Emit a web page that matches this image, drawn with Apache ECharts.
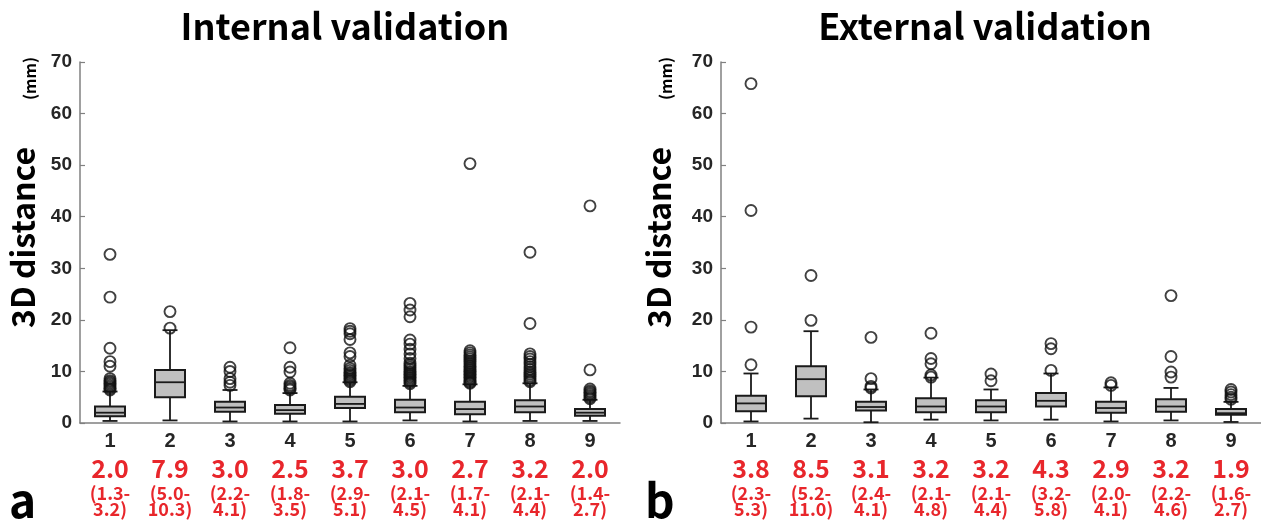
<!DOCTYPE html>
<html><head><meta charset="utf-8">
<script src="https://cdn.jsdelivr.net/npm/echarts@6/dist/echarts.min.js"></script>
<style>html,body{margin:0;padding:0;background:#fff}#c{width:1261px;height:525px}</style>
</head><body><div id="c"></div>
<script>
// ---------- data ----------
const categories = ['1','2','3','4','5','6','7','8','9'];
const yMin = 0, yMax = 70, yStep = 10;

// Internal validation
const intLow  = [0.4, 0.5, 0.3, 0.3, 0.3, 0.5, 0.3, 0.4, 0.4];
const intQ1   = [1.3, 5.0, 2.2, 1.8, 2.9, 2.1, 1.7, 2.1, 1.4];
const intMed  = [2.0, 7.9, 3.0, 2.5, 3.7, 3.0, 2.7, 3.2, 2.0];
const intQ3   = [3.2, 10.3, 4.1, 3.5, 5.1, 4.5, 4.1, 4.4, 2.7];
const intHigh = [6.1, 18.0, 6.4, 5.8, 7.9, 7.2, 7.5, 7.7, 4.5];
const intOut1 = [32.7, 24.4, 14.5, 11.9, 11.0, 8.6, 8.2, 7.9, 7.6, 7.3, 7.0, 6.7, 6.4];
const intOut2 = [21.6, 18.4];
const intOut3 = [10.8, 10.0, 8.6, 7.9, 7.3];
const intOut4 = [14.6, 10.8, 9.9, 7.7, 7.3, 7.0, 6.7, 6.4];
const intOut5 = [18.3, 17.8, 17.3, 16.2, 13.6, 12.9, 11.2, 10.6, 10.2, 9.8, 9.5, 9.2, 8.9, 8.6, 8.3, 8.0];
const intOut6 = [23.2, 21.9, 20.6, 16.1, 15.3, 14.3, 13.4, 12.5, 11.6, 11.2, 10.8, 10.4, 10.0, 9.7, 9.4, 9.1, 8.8, 8.5, 8.2, 7.9, 7.6];
const intOut7 = [50.3, 14.0, 13.6, 13.2, 12.8, 12.4, 12.0, 11.6, 11.2, 10.9, 10.6, 10.3, 10.0, 9.7, 9.4, 9.1, 8.8, 8.5, 8.2, 7.9, 7.7];
const intOut8 = [33.1, 19.3, 13.4, 12.9, 12.4, 11.9, 11.4, 10.9, 10.4, 9.9, 9.5, 9.1, 8.7, 8.3, 8.0];
const intOut9 = [42.1, 10.3, 6.6, 6.2, 5.9, 5.6, 5.3, 5.0, 4.7];

// External validation
const extLow  = [0.3, 0.85, 0.15, 0.65, 0.5, 0.65, 0.3, 0.5, 0.2];
const extQ1   = [2.3, 5.2, 2.4, 2.1, 2.1, 3.2, 2.0, 2.2, 1.6];
const extMed  = [3.8, 8.5, 3.1, 3.2, 3.2, 4.3, 2.9, 3.2, 1.9];
const extQ3   = [5.3, 11.0, 4.1, 4.8, 4.4, 5.8, 4.1, 4.6, 2.7];
const extHigh = [9.6, 17.8, 6.5, 8.8, 6.5, 9.6, 6.9, 6.8, 4.1];
const extOut1 = [65.8, 41.2, 18.6, 11.3];
const extOut2 = [28.6, 19.9];
const extOut3 = [16.6, 8.6, 7.1, 6.8];
const extOut4 = [17.4, 12.5, 11.5, 9.3, 8.9];
const extOut5 = [9.5, 8.2];
const extOut6 = [15.4, 14.4, 10.2];
const extOut7 = [7.8, 7.3];
const extOut8 = [24.7, 12.9, 9.9, 8.9];
const extOut9 = [6.5, 6.0, 5.5, 5.0, 4.6];

const intOutliers = [intOut1, intOut2, intOut3, intOut4, intOut5, intOut6, intOut7, intOut8, intOut9];
const extOutliers = [extOut1, extOut2, extOut3, extOut4, extOut5, extOut6, extOut7, extOut8, extOut9];

// ---------- build ----------
const boxData = (lo, q1, md, q3, hi) => categories.map((c, i) => [i, lo[i], q1[i], md[i], q3[i], hi[i]]);
const outData = (arr) => { const r = []; arr.forEach((vals, i) => vals.forEach(v => r.push([i, v]))); return r; };

function renderBox(params, api) {
  const i = api.value(0);
  const pLow = api.coord([i, api.value(1)]);
  const pQ1 = api.coord([i, api.value(2)]);
  const pMed = api.coord([i, api.value(3)]);
  const pQ3 = api.coord([i, api.value(4)]);
  const pHigh = api.coord([i, api.value(5)]);
  const band = api.size([1, 0])[0];
  const bw = band * 0.5, cw = band * 0.25;
  const x = pMed[0];
  const ls = { stroke: '#1a1a1a', lineWidth: 1.8 };
  return { type: 'group', children: [
    { type: 'line', shape: { x1: x, y1: pQ3[1], x2: x, y2: pHigh[1] }, style: ls },
    { type: 'line', shape: { x1: x, y1: pQ1[1], x2: x, y2: pLow[1] }, style: ls },
    { type: 'line', shape: { x1: x - cw / 2, y1: pHigh[1], x2: x + cw / 2, y2: pHigh[1] }, style: ls },
    { type: 'line', shape: { x1: x - cw / 2, y1: pLow[1], x2: x + cw / 2, y2: pLow[1] }, style: ls },
    { type: 'rect', shape: { x: x - bw / 2, y: pQ3[1], width: bw, height: pQ1[1] - pQ3[1] }, style: { fill: '#c0c0c0', stroke: '#1a1a1a', lineWidth: 2 } },
    { type: 'line', shape: { x1: x - bw / 2, y1: pMed[1], x2: x + bw / 2, y2: pMed[1] }, style: ls }
  ]};
}

function xAxisFor(gridIndex, q1, md, q3) {
  return {
    type: 'category', gridIndex, data: categories, boundaryGap: true,
    axisLine: { lineStyle: { color: '#808080', width: 1.5 } },
    axisTick: { show: false },
    axisLabel: {
      interval: 0, margin: 8,
      formatter: (v, i) => '{n|' + v + '}\n{m|' + md[i].toFixed(1) + '}\n{r|(' + q1[i].toFixed(1) + '-}\n{r|' + q3[i].toFixed(1) + ')}',
      rich: {
        n: { fontFamily: 'Liberation Sans, Arial, sans-serif', fontWeight: 'bold', fontSize: 20, color: '#262626', lineHeight: 20, align: 'center' },
        m: { fontFamily: 'Noto Sans CJK JP, sans-serif', fontWeight: 'bold', fontSize: 25, color: '#e8262b', lineHeight: 34, align: 'center' },
        r: { fontFamily: 'Noto Sans CJK JP, sans-serif', fontWeight: 'bold', fontSize: 18, color: '#e8262b', lineHeight: 16, align: 'center' }
      }
    },
    splitLine: { show: false }
  };
}
function yAxisFor(gridIndex) {
  return {
    type: 'value', gridIndex, min: yMin, max: yMax, interval: yStep,
    axisLine: { show: true, lineStyle: { color: '#808080', width: 1.5 } },
    axisTick: { show: true, inside: true, length: 5, lineStyle: { color: '#808080', width: 1.2 } },
    axisLabel: { fontFamily: 'Liberation Sans, Arial, sans-serif', fontWeight: 'bold', fontSize: 19, color: '#262626', margin: 8 },
    splitLine: { show: false }
  };
}
const outStyle = { color: 'rgba(0,0,0,0)', borderColor: '#111', borderWidth: 1.9 };

const titleFont = 'Noto Sans CJK JP, Noto Sans, sans-serif';
const chart = echarts.init(document.getElementById('c'), null, { renderer: 'canvas' });
chart.setOption({
  animation: false,
  backgroundColor: '#fff',
  grid: [
    { left: 80, right: 641, top: 62, bottom: 102, containLabel: false },
    { left: 721, right: 0, top: 62, bottom: 102, containLabel: false }
  ],
  xAxis: [xAxisFor(0, intQ1, intMed, intQ3), xAxisFor(1, extQ1, extMed, extQ3)],
  yAxis: [yAxisFor(0), yAxisFor(1)],
  series: [
    { type: 'custom', xAxisIndex: 0, yAxisIndex: 0, renderItem: renderBox, data: boxData(intLow, intQ1, intMed, intQ3, intHigh), encode: { x: 0, y: [1, 2, 3, 4, 5] }, z: 2 },
    { type: 'scatter', xAxisIndex: 0, yAxisIndex: 0, symbol: 'circle', symbolSize: 11, itemStyle: outStyle, data: outData(intOutliers), z: 3 },
    { type: 'custom', xAxisIndex: 1, yAxisIndex: 1, renderItem: renderBox, data: boxData(extLow, extQ1, extMed, extQ3, extHigh), encode: { x: 0, y: [1, 2, 3, 4, 5] }, z: 2 },
    { type: 'scatter', xAxisIndex: 1, yAxisIndex: 1, symbol: 'circle', symbolSize: 11, itemStyle: outStyle, data: outData(extOutliers), z: 3 }
  ],
  graphic: [
    { type: 'text', x: 345, y: 26, style: { text: 'Internal validation', fontFamily: titleFont, fontWeight: 'bold', fontSize: 36, fill: '#000', textAlign: 'center', textVerticalAlign: 'middle' } },
    { type: 'text', x: 985, y: 26, style: { text: 'External validation', fontFamily: titleFont, fontWeight: 'bold', fontSize: 36, fill: '#000', textAlign: 'center', textVerticalAlign: 'middle' } },
    { type: 'text', x: 39, y: 328, rotation: Math.PI / 2, style: { text: '3D distance', fontFamily: titleFont, fontWeight: 'bold', fontSize: 32, fill: '#000', textAlign: 'left', textVerticalAlign: 'bottom' } },
    { type: 'text', x: 38, y: 100, rotation: Math.PI / 2, style: { text: '(mm)', fontFamily: titleFont, fontWeight: 'bold', fontSize: 16, fill: '#000', textAlign: 'left', textVerticalAlign: 'bottom' } },
    { type: 'text', x: 675, y: 328, rotation: Math.PI / 2, style: { text: '3D distance', fontFamily: titleFont, fontWeight: 'bold', fontSize: 32, fill: '#000', textAlign: 'left', textVerticalAlign: 'bottom' } },
    { type: 'text', x: 674, y: 100, rotation: Math.PI / 2, style: { text: '(mm)', fontFamily: titleFont, fontWeight: 'bold', fontSize: 16, fill: '#000', textAlign: 'left', textVerticalAlign: 'bottom' } },
    { type: 'text', x: 9, y: 524, style: { text: 'a', fontFamily: titleFont, fontWeight: 'bold', fontSize: 46, fill: '#000', textAlign: 'left', textVerticalAlign: 'bottom' } },
    { type: 'text', x: 645, y: 524, style: { text: 'b', fontFamily: titleFont, fontWeight: 'bold', fontSize: 46, fill: '#000', textAlign: 'left', textVerticalAlign: 'bottom' } }
  ]
});
</script>
</body></html>
